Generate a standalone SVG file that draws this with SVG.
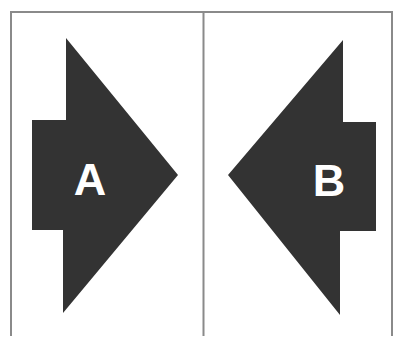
<svg xmlns="http://www.w3.org/2000/svg" width="393" height="338" viewBox="0 0 393 338">
<style>
.frame{fill:none;stroke:#8a8a8a;stroke-width:2}
.arrow{fill:#333333}
.lbl{fill:#ffffff;font-family:"Liberation Sans",Arial,sans-serif;font-weight:bold;font-size:45px;text-anchor:middle}
</style>
<rect width="393" height="338" fill="#ffffff"/>
<g id="panels">
<path class="frame" d="M11,336 V12 H392 V336 M203.5,12 V336"/>
</g>
<g id="nodeA">
<polygon class="arrow" points="66,38 178,175 63,313 63,230 32,230 32,120 66,120"/>
<text class="lbl" x="90" y="195">A</text>
</g>
<g id="nodeB">
<polygon class="arrow" points="343,40 228,175 340,315 340,231 376,231 376,122 343,122"/>
<text class="lbl" x="329" y="196">B</text>
</g>
<g id="connectors"></g>
</svg>
